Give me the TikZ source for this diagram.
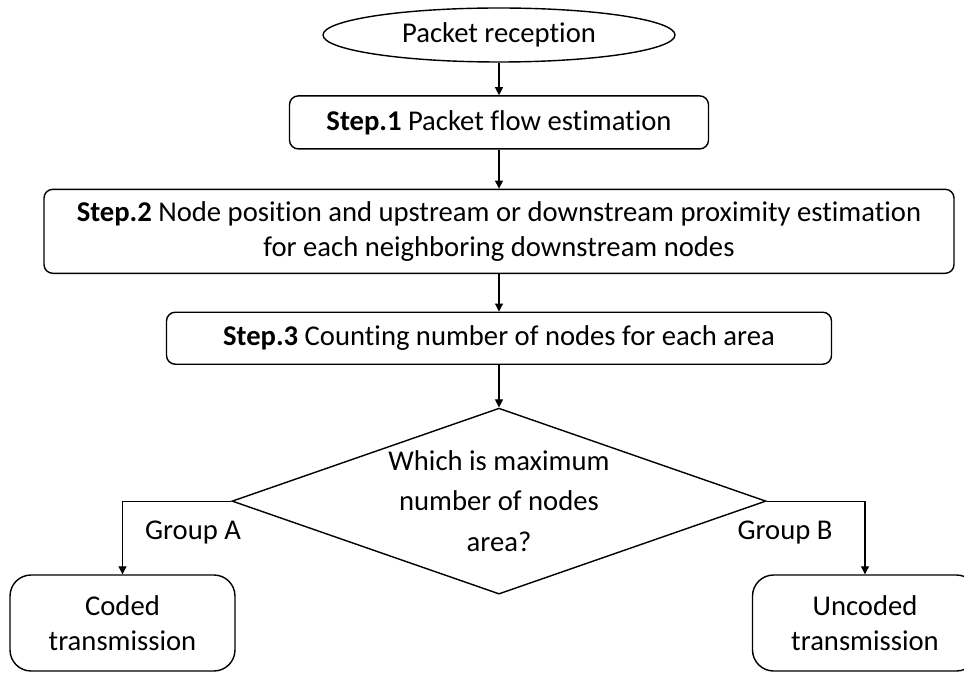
\documentclass[tikz,border=0pt]{standalone}
\usepackage{fontspec}
\setmainfont{Carlito}[Ligatures=NoCommon]
\usepackage{tikz}
\usetikzlibrary{arrows.meta,positioning,shapes.geometric}

\begin{document}
\begin{tikzpicture}[
  font=\fontsize{16.3}{20}\selectfont,
  startnode/.style={draw, ellipse, line width=0.8pt, minimum width=7.04cm, minimum height=1.08cm, inner sep=0pt},
  stepbox/.style={draw, rounded corners=5pt, line width=0.8pt, align=center, inner sep=0pt},
  outbox/.style={draw, rounded corners=12pt, line width=0.8pt, minimum width=4.5cm, minimum height=1.92cm, align=center, inner sep=0pt},
  decision/.style={draw, diamond, line width=0.8pt, minimum width=10.68cm, minimum height=3.72cm, inner sep=0pt},
  flow/.style={-{Triangle[length=1.6mm, width=1.6mm]}, line width=0.6pt}
]
  \useasboundingbox (0,0) rectangle (19.28,-13.46);

  \node[startnode] (rx) at (9.98,-0.70) {Packet reception};
  \node[stepbox, minimum width=8.38cm, minimum height=1.06cm, below=0.65cm of rx] (s1) {\textbf{Step.1} Packet flow estimation};
  \node[stepbox, minimum width=18.2cm, minimum height=1.68cm, below=0.78cm of s1] (s2) {\textbf{Step.2} Node position and upstream or downstream proximity estimation\\for each neighboring downstream nodes};
  \node[stepbox, minimum width=13.3cm, minimum height=1.04cm, below=0.75cm of s2] (s3) {\textbf{Step.3} Counting number of nodes for each area};
  \node[decision, below=0.85cm of s3] (q) {};
  \node[align=center, font=\fontsize{16.3}{23.3}\selectfont] (qtext) at (q.center) {Which is maximum\\number of nodes\\area?};

  \node[outbox] (coded) at (2.45,-12.46) {Coded\\transmission};
  \node[outbox] (uncoded) at (17.3,-12.46) {Uncoded\\transmission};

  \node (ga) at (3.86,-10.66) {Group A};
  \node (gb) at (15.7,-10.66) {Group B};

  \draw[flow] (rx) -- (s1);
  \draw[flow] (s1) -- (s2);
  \draw[flow] (s2) -- (s3);
  \draw[flow] (s3) -- (q);
  \draw[flow] (q.west) -| (coded.north);
  \draw[flow] (q.east) -| (uncoded.north);
\end{tikzpicture}
\end{document}
